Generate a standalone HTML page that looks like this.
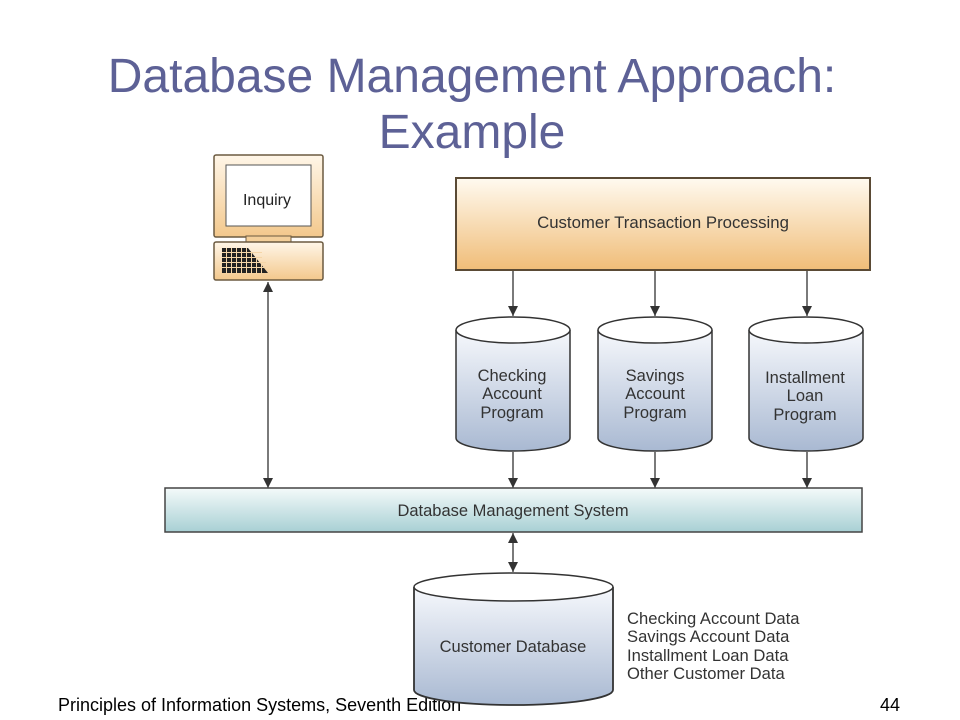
<!DOCTYPE html>
<html><head><meta charset="utf-8"><style>
html,body{margin:0;padding:0;background:#fff;width:960px;height:720px;overflow:hidden}
svg{display:block;font-family:"Liberation Sans",sans-serif}
</style></head><body>
<svg width="960" height="720" viewBox="0 0 960 720" xmlns="http://www.w3.org/2000/svg">
<defs>
<linearGradient id="og" x1="0" y1="0" x2="0" y2="1"><stop offset="0" stop-color="#fffaf0"/><stop offset="1" stop-color="#f0bd78"/></linearGradient>
<linearGradient id="mg" x1="0" y1="0" x2="0" y2="1"><stop offset="0" stop-color="#fff6e8"/><stop offset="1" stop-color="#f3c88c"/></linearGradient>
<linearGradient id="bg" x1="0" y1="0" x2="0" y2="1"><stop offset="0" stop-color="#f6f8fc"/><stop offset="1" stop-color="#a9b9d2"/></linearGradient>
<linearGradient id="tg" x1="0" y1="0" x2="0" y2="1"><stop offset="0" stop-color="#f4fafa"/><stop offset="1" stop-color="#a8d0d4"/></linearGradient>
<marker id="ah" viewBox="0 0 10 10" refX="10" refY="5" markerWidth="10" markerHeight="10" markerUnits="userSpaceOnUse" orient="auto-start-reverse"><path d="M0,0 L10,5 L0,10 z" fill="#333"/></marker>
</defs>
<text x="472" y="92" font-size="48" fill="#5d6196" text-anchor="middle">Database Management Approach:</text>
<text x="472" y="148" font-size="48" fill="#5d6196" text-anchor="middle">Example</text>

<text x="58" y="711" font-size="18" fill="#000">Principles of Information Systems, Seventh Edition</text>
<text x="880" y="711" font-size="18" fill="#000">44</text>

<!-- monitor -->
<rect x="214" y="155" width="109" height="82" rx="2" fill="url(#mg)" stroke="#6b5a40" stroke-width="1.5"/>
<rect x="226" y="165" width="85" height="61" fill="#fff" stroke="#555" stroke-width="1"/>
<text x="267" y="205" font-size="16" fill="#222" text-anchor="middle">Inquiry</text>
<rect x="246" y="236" width="45" height="6" fill="#f3cf9a" stroke="#6b5a40"/>
<rect x="214" y="242" width="109" height="38" rx="2" fill="url(#mg)" stroke="#6b5a40" stroke-width="1.5"/>
<path d="M222,248 h26 l20,25 h-46 z" fill="#222"/>
<g stroke="#f5d6a8" stroke-width="1">
<line x1="222" y1="252.5" x2="262" y2="252.5"/><line x1="222" y1="257.5" x2="262" y2="257.5"/><line x1="222" y1="262.5" x2="266" y2="262.5"/><line x1="222" y1="267.5" x2="266" y2="267.5"/>
<line x1="226.5" y1="248" x2="226.5" y2="274"/><line x1="231.5" y1="248" x2="231.5" y2="274"/><line x1="236.5" y1="248" x2="236.5" y2="274"/><line x1="241.5" y1="248" x2="241.5" y2="274"/><line x1="246.5" y1="248" x2="246.5" y2="274"/><line x1="251.5" y1="252" x2="251.5" y2="274"/><line x1="256.5" y1="258" x2="256.5" y2="274"/><line x1="261.5" y1="264" x2="261.5" y2="274"/>
</g>

<g stroke="#333" stroke-width="1.3" fill="none">
<line x1="268" y1="282" x2="268" y2="488" marker-start="url(#ah)" marker-end="url(#ah)"/>
<line x1="513" y1="271" x2="513" y2="316" marker-end="url(#ah)"/>
<line x1="655" y1="271" x2="655" y2="316" marker-end="url(#ah)"/>
<line x1="807" y1="271" x2="807" y2="316" marker-end="url(#ah)"/>
<line x1="513" y1="452" x2="513" y2="488" marker-end="url(#ah)"/>
<line x1="655" y1="452" x2="655" y2="488" marker-end="url(#ah)"/>
<line x1="807" y1="452" x2="807" y2="488" marker-end="url(#ah)"/>
<line x1="513" y1="533" x2="513" y2="572" marker-start="url(#ah)" marker-end="url(#ah)"/>
</g>

<rect x="456" y="178" width="414" height="92" fill="url(#og)" stroke="#5a4a35" stroke-width="2"/>
<text x="663" y="228" font-size="16.8" fill="#333" text-anchor="middle">Customer Transaction Processing</text>

<g stroke="#333" stroke-width="1.5">
<path d="M456,330 V438 A57,13 0 0 0 570,438 V330" fill="url(#bg)"/>
<ellipse cx="513" cy="330" rx="57" ry="13" fill="#fff"/>
<path d="M598,330 V438 A57,13 0 0 0 712,438 V330" fill="url(#bg)"/>
<ellipse cx="655" cy="330" rx="57" ry="13" fill="#fff"/>
<path d="M749,330 V438 A57,13 0 0 0 863,438 V330" fill="url(#bg)"/>
<ellipse cx="806" cy="330" rx="57" ry="13" fill="#fff"/>
</g>
<g font-size="16.5" fill="#333" text-anchor="middle">
<text x="512" y="381">Checking</text><text x="512" y="399">Account</text><text x="512" y="418">Program</text>
<text x="655" y="381">Savings</text><text x="655" y="399">Account</text><text x="655" y="418">Program</text>
<text x="805" y="383">Installment</text><text x="805" y="401">Loan</text><text x="805" y="420">Program</text>
</g>

<rect x="165" y="488" width="697" height="44" fill="url(#tg)" stroke="#444" stroke-width="1.5"/>
<text x="513" y="516" font-size="16.5" fill="#333" text-anchor="middle">Database Management System</text>

<path d="M414,587 V690 A99.5,15 0 0 0 613,690 V587" fill="url(#bg)" stroke="#333" stroke-width="1.8"/>
<ellipse cx="513.5" cy="587" rx="99.5" ry="14" fill="#fff" stroke="#333" stroke-width="1.5"/>
<text x="513" y="652" font-size="16.5" fill="#333" text-anchor="middle">Customer Database</text>

<g font-size="16.6" fill="#333">
<text x="627" y="624">Checking Account Data</text>
<text x="627" y="642">Savings Account Data</text>
<text x="627" y="661">Installment Loan Data</text>
<text x="627" y="679">Other Customer Data</text>
</g>
</svg>
</body></html>
